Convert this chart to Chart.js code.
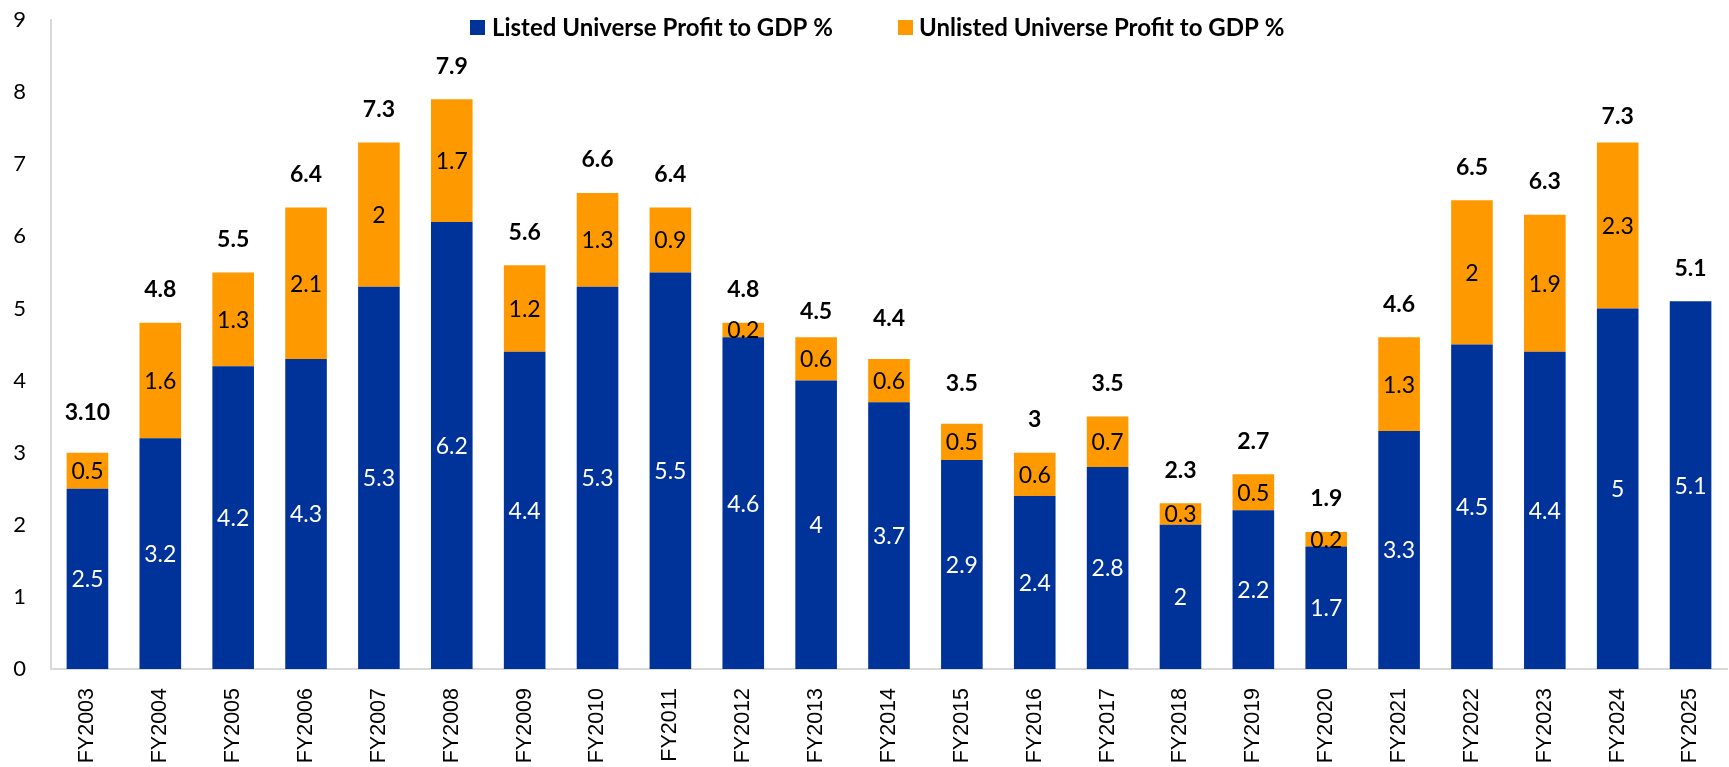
<!DOCTYPE html>
<html>
<head>
<meta charset="utf-8">
<script src="https://cdn.jsdelivr.net/npm/chart.js@4.4.1/dist/chart.umd.min.js"></script>
<style>
  html, body { margin: 0; padding: 0; background: #ffffff; }
  #wrap { width: 1729px; height: 767px; position: relative; }
</style>
</head>
<body>
<div id="wrap"><canvas id="c" width="1729" height="767"></canvas></div>
<script>
const categories = ['FY2003','FY2004','FY2005','FY2006','FY2007','FY2008','FY2009','FY2010','FY2011','FY2012','FY2013','FY2014','FY2015','FY2016','FY2017','FY2018','FY2019','FY2020','FY2021','FY2022','FY2023','FY2024','FY2025'];
const listedValues = [2.5,3.2,4.2,4.3,5.3,6.2,4.4,5.3,5.5,4.6,4,3.7,2.9,2.4,2.8,2,2.2,1.7,3.3,4.5,4.4,5,5.1];
const unlistedValues = [0.5,1.6,1.3,2.1,2,1.7,1.2,1.3,0.9,0.2,0.6,0.6,0.5,0.6,0.7,0.3,0.5,0.2,1.3,2,1.9,2.3,null];
const totalLabels = ['3.10','4.8','5.5','6.4','7.3','7.9','5.6','6.6','6.4','4.8','4.5','4.4','3.5','3','3.5','2.3','2.7','1.9','4.6','6.5','6.3','7.3','5.1'];
const totalValues = [3.1,4.8,5.5,6.4,7.3,7.9,5.6,6.6,6.4,4.8,4.5,4.4,3.5,3,3.5,2.3,2.7,1.9,4.6,6.5,6.3,7.2,5.1];
const seriesNames = ['Listed Universe Profit to GDP %','Unlisted Universe Profit to GDP %'];
const yMin = 0, yMax = 9, yStep = 1;

const BLUE = '#003399';
const ORANGE = '#ff9900';
const LABEL_FONT = 'Lato';

const labelPlugin = {
  id: 'labels',
  afterDatasetsDraw(chart) {
    const ctx = chart.ctx;
    ctx.save();
    ctx.textAlign = 'center';
    ctx.textBaseline = 'middle';
    [0, 1].forEach(di => {
      const meta = chart.getDatasetMeta(di);
      const ds = chart.data.datasets[di];
      ctx.fillStyle = di === 0 ? '#ffffff' : '#000000';
      ctx.font = '23px ' + LABEL_FONT;
      meta.data.forEach((bar, i) => {
        const v = ds.data[i];
        if (v === null || v === undefined) return;
        const p = bar.getProps(['x', 'y', 'base'], true);
        ctx.fillText(String(v), p.x, (p.y + p.base) / 2 + 1);
      });
    });
    const tMeta = chart.getDatasetMeta(2);
    ctx.fillStyle = '#000000';
    ctx.font = 'bold 23px ' + LABEL_FONT;
    tMeta.data.forEach((pt, i) => {
      const p = pt.getProps(['x', 'y'], true);
      ctx.fillText(totalLabels[i], p.x, p.y - 33);
    });
    ctx.restore();
  }
};

const legendPlugin = {
  id: 'customLegend',
  afterDraw(chart) {
    const ctx = chart.ctx;
    ctx.save();
    const items = [
      { color: BLUE, text: seriesNames[0], box: 470, tx: 492, w: 344 },
      { color: ORANGE, text: seriesNames[1], box: 898, tx: 919, w: 371 }
    ];
    ctx.textBaseline = 'middle';
    ctx.textAlign = 'left';
    items.forEach(it => {
      ctx.fillStyle = it.color;
      ctx.fillRect(it.box, 20, 15, 15);
      ctx.font = 'bold 100px ' + LABEL_FONT;
      const mw = ctx.measureText(it.text).width;
      const size = Math.min(24, 100 * it.w / mw);
      ctx.font = 'bold ' + size.toFixed(2) + 'px ' + LABEL_FONT;
      ctx.fillStyle = '#000000';
      ctx.fillText(it.text, it.tx, 28);
    });
    ctx.restore();
  }
};

function zeroPad(s) { s.paddingTop = 0; s.paddingBottom = 0; s.paddingLeft = 0; s.paddingRight = 0; }

new Chart(document.getElementById('c'), {
  type: 'bar',
  data: {
    labels: categories,
    datasets: [
      { label: seriesNames[0], data: listedValues, backgroundColor: BLUE, stack: 's', barPercentage: 0.571, categoryPercentage: 1, order: 2 },
      { label: seriesNames[1], data: unlistedValues, backgroundColor: ORANGE, stack: 's', barPercentage: 0.571, categoryPercentage: 1, order: 2 },
      { type: 'line', label: 'Total', data: totalValues, stack: 'total', showLine: false, borderWidth: 0, pointRadius: 0, pointHoverRadius: 0, borderColor: 'rgba(0,0,0,0)', backgroundColor: 'rgba(0,0,0,0)', order: 1 }
    ]
  },
  options: {
    responsive: false,
    animation: false,
    devicePixelRatio: 1,
    layout: { autoPadding: false, padding: { top: 20, right: 2, left: 0, bottom: 0 } },
    plugins: {
      legend: { display: false },
      tooltip: { enabled: false }
    },
    scales: {
      x: {
        stacked: true,
        grid: { display: false, drawTicks: false },
        border: { display: true, color: '#d9d9d9', width: 2 },
        ticks: {
          font: { family: 'Liberation Sans', size: 21.5 },
          color: '#000000',
          minRotation: 90,
          maxRotation: 90,
          autoSkip: false,
          padding: 19
        },
        afterFit(s) { s.height = 98; zeroPad(s); }
      },
      y: {
        stacked: true,
        min: yMin,
        max: yMax,
        grid: { display: false, drawTicks: false },
        border: { display: true, color: '#d9d9d9', width: 2 },
        ticks: {
          stepSize: yStep,
          font: { family: LABEL_FONT, size: 22 },
          color: '#000000',
          padding: 25
        },
        afterFit(s) { s.width = 51; zeroPad(s); }
      }
    }
  },
  plugins: [labelPlugin, legendPlugin]
});
</script>
</body>
</html>
